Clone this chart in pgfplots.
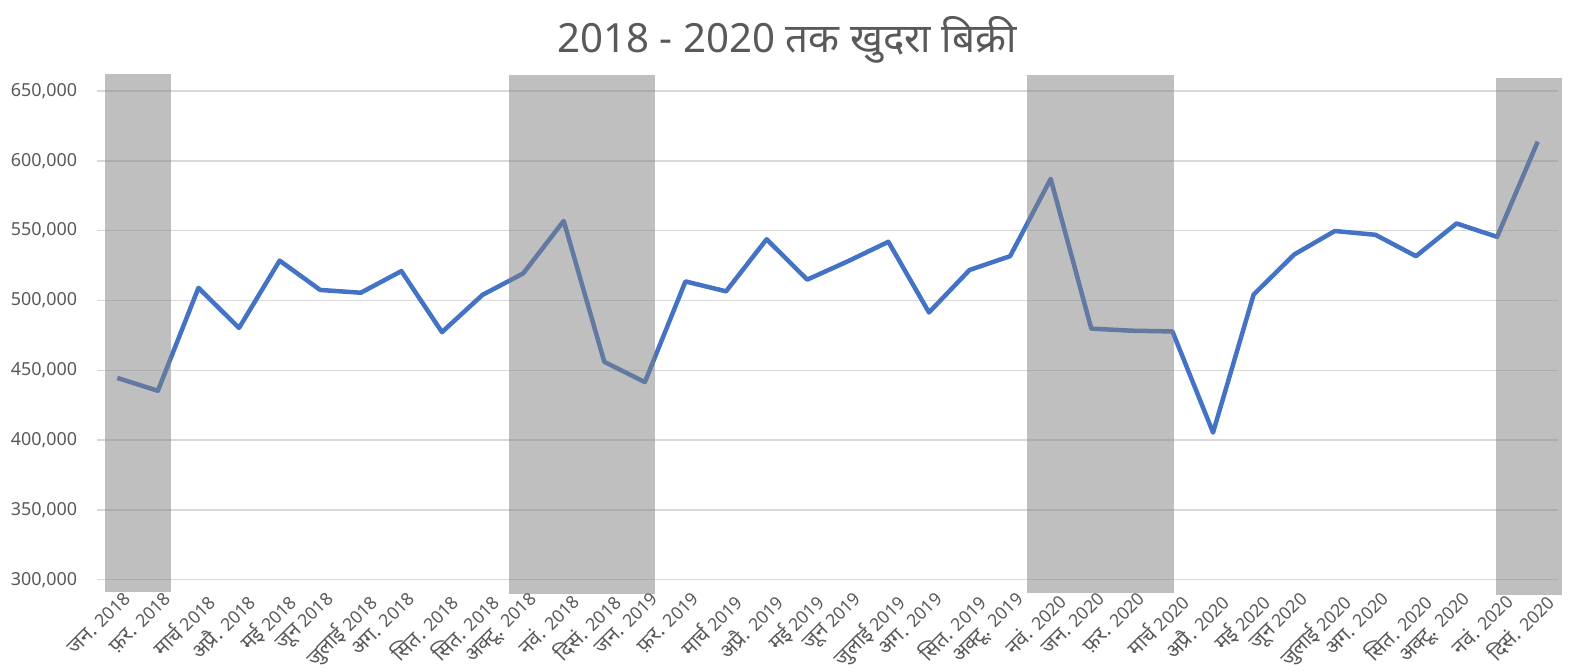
\documentclass[border=0pt]{standalone}
\usepackage{fontspec}
\setmainfont{Noto Sans}
\newfontfamily\deva[Script=Devanagari]{Noto Sans}
\usepackage{pgfplots}
\pgfplotsset{compat=1.18}
\definecolor{lineblue}{HTML}{4472C4}
\definecolor{gridgray}{HTML}{D9D9D9}
\definecolor{labelgray}{HTML}{595959}
\definecolor{bandgray}{HTML}{808080}
% month label: Devanagari part a bit larger than the year
\newcommand{\ml}[2]{{\deva\fontsize{10.4}{12}\selectfont #1} {\fontsize{8.9}{10}\selectfont #2}}
\begin{document}
\begin{tikzpicture}
\useasboundingbox (-48.5bp,-39.15bp) rectangle (740.5bp,296.85bp);
\begin{axis}[
  at={(0,0)}, anchor=south west,
  scale only axis, width=730.5bp, height=260.1bp,
  xmin=-0.5, xmax=35.5, ymin=290000, ymax=662500,
  clip=false,
  axis line style={draw=none},
  major tick length=0pt,
  xtick={0,...,35},
  xticklabels={{\ml{जन.}{2018}},{\ml{फ़र.}{2018}},{\ml{मार्च}{2018}},{\ml{अप्रै.}{2018}},{\ml{मई}{2018}},{\ml{जून}{2018}},{\ml{जुलाई}{2018}},{\ml{अग.}{2018}},{\ml{सित.}{2018}},{\ml{सित.}{2018}},{\ml{अक्टू.}{2018}},{\ml{नवं.}{2018}},{\ml{दिसं.}{2018}},
    {\ml{जन.}{2019}},{\ml{फ़र.}{2019}},{\ml{मार्च}{2019}},{\ml{अप्रै.}{2019}},{\ml{मई}{2019}},{\ml{जून}{2019}},{\ml{जुलाई}{2019}},{\ml{अग.}{2019}},{\ml{सित.}{2019}},{\ml{अक्टू.}{2019}},{\ml{नवं.}{2020}},
    {\ml{जन.}{2020}},{\ml{फ़र.}{2020}},{\ml{मार्च}{2020}},{\ml{अप्रै.}{2020}},{\ml{मई}{2020}},{\ml{जून}{2020}},{\ml{जुलाई}{2020}},{\ml{अग.}{2020}},{\ml{सित.}{2020}},{\ml{अक्टू.}{2020}},{\ml{नवं.}{2020}},{\ml{दिसं.}{2020}}},
  ytick={300000,350000,400000,450000,500000,550000,600000,650000},
  ymajorgrids, grid style={draw=gridgray, line width=0.75bp},
  tick label style={font=\fontsize{9}{10}\selectfont, text=labelgray},
  xticklabel style={rotate=45, anchor=north east, inner sep=0pt, xshift=3bp, yshift=-0.5bp},
  yticklabel style={anchor=east, inner sep=0pt, xshift=-9.7bp,
    /pgf/number format/.cd, fixed, precision=0, 1000 sep={,}, assume math mode=true},
  scaled y ticks=false,
]
% monthly sales
\addplot[lineblue, line width=2.25bp, line join=round] coordinates {
  (0,444500)(1,435300)(2,509000)(3,480300)(4,528500)(5,507500)(6,505500)(7,521000)(8,477300)
  (9,504000)(10,519300)(11,556900)(12,456000)(13,441500)(14,513600)(15,506500)(16,543800)(17,514900)
  (18,528000)(19,542000)(20,491400)(21,521800)(22,531700)(23,587000)(24,479800)(25,478300)(26,477800)
  (27,405400)(28,504200)(29,532900)(30,549700)(31,547000)(32,531700)(33,555100)(34,545500)(35,613700)
};
% shaded bands
\addplot[draw=none, fill=bandgray, fill opacity=0.5] coordinates {(-0.296,290900)(-0.296,662100)(1.323,662100)(1.323,290900)} --cycle;
\addplot[draw=none, fill=bandgray, fill opacity=0.5] coordinates {(9.66,290100)(9.66,661600)(13.26,661600)(13.26,290100)} --cycle;
\addplot[draw=none, fill=bandgray, fill opacity=0.5] coordinates {(22.41,290600)(22.41,661600)(26.04,661600)(26.04,290600)} --cycle;
\addplot[draw=none, fill=bandgray, fill opacity=0.5] coordinates {(33.97,288900)(33.97,659400)(35.60,659400)(35.60,288900)} --cycle;
\end{axis}
\node[font=\deva\fontsize{20.2}{22}\selectfont, text=labelgray, anchor=base] at (345bp,270.35bp) {2018 - 2020 तक खुदरा बिक्री};
\end{tikzpicture}
\end{document}
